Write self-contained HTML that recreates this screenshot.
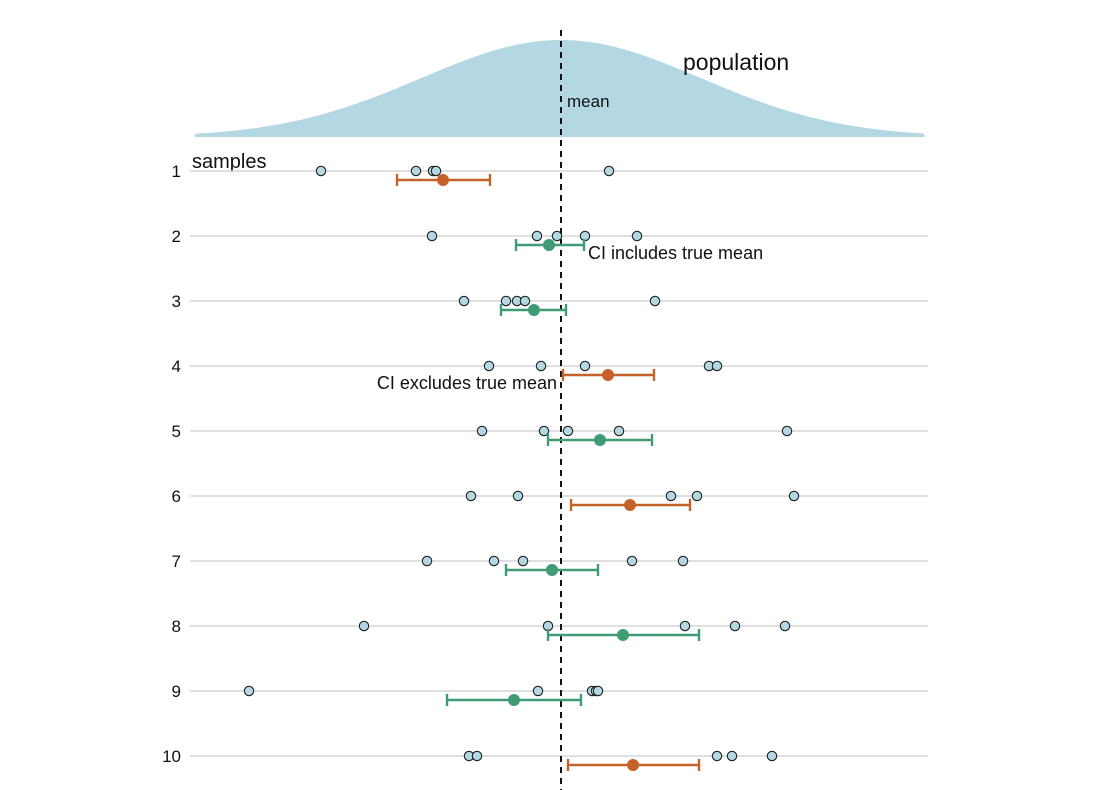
<!DOCTYPE html>
<html><head><meta charset="utf-8"><style>
html,body{margin:0;padding:0;background:#fff;}
svg{display:block;font-family:"Liberation Sans",sans-serif;}
</style></head><body>
<svg id="chart" width="1110" height="790"></svg>
<script>
const rows = ["1","2","3","4","5","6","7","8","9","10"];
const samples = [
 [-2.40,-1.45,-1.28,-1.25,0.48],
 [-1.29,-0.24,-0.04,0.24,0.76],
 [-0.97,-0.55,-0.44,-0.36,0.94],
 [-0.72,-0.20,0.24,1.48,1.56],
 [-0.79,-0.17,0.07,0.58,2.26],
 [-0.90,-0.43,1.10,1.36,2.33],
 [-1.34,-0.67,-0.38,0.71,1.22],
 [-1.97,-0.13,1.24,1.74,2.24],
 [-3.12,-0.23,0.31,0.35,0.37],
 [-0.92,-0.84,1.56,1.71,2.11]
];
const means = [-1.18,-0.12,-0.27,0.47,0.39,0.69,-0.09,0.62,-0.47,0.72];
const ciLow = [-1.64,-0.45,-0.60,0.02,-0.13,0.10,-0.55,-0.13,-1.14,0.07];
const ciHigh = [-0.71,0.23,0.05,0.93,0.91,1.29,0.37,1.38,0.20,1.38];
const popMean = 0, popSd = 1.4;

const NS="http://www.w3.org/2000/svg", svg=document.getElementById('chart');
const xs = v => 561 + v*100;
const ys = i => 171 + i*65;
function el(t,a,p){const e=document.createElementNS(NS,t);for(const k in a)e.setAttribute(k,a[k]);(p||svg).appendChild(e);return e;}

let d="M195,137";
for(let px=195;px<=925;px+=3){const v=(px-561)/100;const h=97*Math.exp(-Math.pow(v-popMean,2)/(2*popSd*popSd));d+=" L"+px+","+(137-h).toFixed(1);}
d+=" L925,137 Z";
const curve=el('path',{d:d,fill:'#b3d8e4'});


let t=el('text',{x:683,y:70,'font-size':23,fill:'#111'});t.textContent="population";

t=el('text',{x:192,y:168,'font-size':20,fill:'#111'});t.textContent="samples";


rows.forEach((r,i)=>{
 const y=ys(i);
 const g=el('line',{x1:190,x2:928,y1:y,y2:y,stroke:'#d6d6d6','stroke-width':1.5});
 
 const lb=el('text',{x:181,y:y+6,'font-size':17,'text-anchor':'end',fill:'#111'});lb.textContent=r;
 
});
const ml=el('line',{x1:xs(popMean),x2:xs(popMean),y1:30,y2:790,stroke:'#111','stroke-width':2,'stroke-dasharray':'6,5'});

t=el('text',{x:567,y:107,'font-size':17,fill:'#111'});t.textContent="mean";


rows.forEach((r,i)=>{
 const y=ys(i);
 samples[i].forEach(v=>{
  const c=el('circle',{cx:xs(v),cy:y,r:4.7,fill:'#b3d8e4',stroke:'#222','stroke-width':1.1});
  
 });
 const inc = ciLow[i]<=popMean && ciHigh[i]>=popMean;
 const col = inc ? '#3f9b76' : '#c5622a';
 const cy=y+9, x1=xs(ciLow[i]), x2=xs(ciHigh[i]);
 const gg=el('g',{stroke:col,'stroke-width':2.4});
 
 el('line',{x1:x1,x2:x2,y1:cy,y2:cy},gg);
 el('line',{x1:x1,x2:x1,y1:cy-6,y2:cy+6},gg);
 el('line',{x1:x2,x2:x2,y1:cy-6,y2:cy+6},gg);
 const m=el('circle',{cx:xs(means[i]),cy:cy,r:6,fill:col});
 
});
t=el('text',{x:588,y:259,'font-size':18,fill:'#111'});t.textContent="CI includes true mean";

t=el('text',{x:557,y:389,'font-size':18,'text-anchor':'end',fill:'#111'});t.textContent="CI excludes true mean";

</script>
</body></html>
